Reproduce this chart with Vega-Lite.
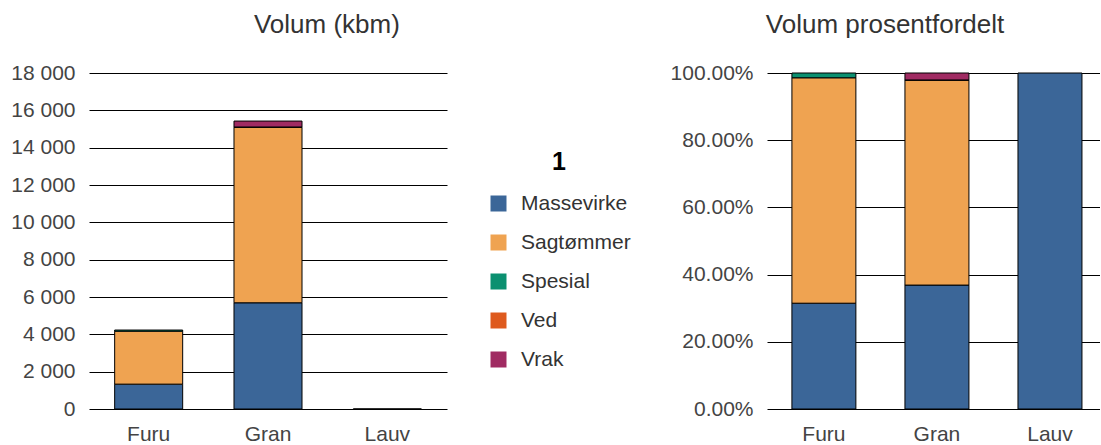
{
  "$schema": "https://vega.github.io/schema/vega-lite/v6.json",
  "padding": {"left": 10, "top": 12, "right": 0, "bottom": 0},
  "data": {"values": [
    {"treslag": "Furu", "sortiment": "Massevirke", "volum": 1332},
    {"treslag": "Furu", "sortiment": "Sagtømmer", "volum": 2838},
    {"treslag": "Furu", "sortiment": "Spesial", "volum": 60},
    {"treslag": "Gran", "sortiment": "Massevirke", "volum": 5690},
    {"treslag": "Gran", "sortiment": "Sagtømmer", "volum": 9406},
    {"treslag": "Gran", "sortiment": "Ved", "volum": 12},
    {"treslag": "Gran", "sortiment": "Vrak", "volum": 318},
    {"treslag": "Lauv", "sortiment": "Massevirke", "volum": 6}
  ]},
  "spacing": 39,
  "hconcat": [
    {
      "title": {"text": "Volum (kbm)", "frame": "bounds", "anchor": "middle", "dx": 6},
      "width": 358,
      "height": 336,
      "mark": {"type": "bar", "stroke": "#000", "strokeWidth": 1},
      "encoding": {
        "x": {"field": "treslag", "type": "nominal", "title": null,
              "scale": {"domain": ["Furu", "Gran", "Lauv"], "paddingInner": 0.43, "paddingOuter": 0.215},
              "axis": {"labelAngle": 0, "ticks": false, "domain": false, "labelPadding": 14}},
        "y": {"field": "volum", "type": "quantitative", "aggregate": "sum", "title": null,
              "scale": {"domain": [0, 18000]},
              "axis": {"values": [0, 2000, 4000, 6000, 8000, 10000, 12000, 14000, 16000, 18000],
                       "labelExpr": "replace(format(datum.value, ','), ',', ' ')",
                       "ticks": false, "domain": false, "labelPadding": 14}},
        "color": {"field": "sortiment", "type": "nominal",
                  "scale": {"domain": ["Massevirke", "Sagtømmer", "Spesial", "Ved", "Vrak"],
                            "range": ["#3B6698", "#EFA351", "#0B9070", "#DE5A1E", "#A02B62"]},
                  "legend": {"title": "1", "orient": "none", "legendX": 399, "legendY": 77}},
        "order": {"field": "sortiment", "sort": "ascending"}
      }
    },
    {
      "title": {"text": "Volum prosentfordelt", "frame": "bounds", "anchor": "middle"},
      "width": 333,
      "height": 336,
      "mark": {"type": "bar", "stroke": "#000", "strokeWidth": 1},
      "encoding": {
        "x": {"field": "treslag", "type": "nominal", "title": null,
              "scale": {"domain": ["Furu", "Gran", "Lauv"], "paddingInner": 0.434, "paddingOuter": 0.19, "align": 0.58},
              "axis": {"labelAngle": 0, "ticks": false, "domain": false, "labelPadding": 14}},
        "y": {"field": "volum", "type": "quantitative", "aggregate": "sum", "title": null,
              "stack": "normalize",
              "scale": {"domain": [0, 1]},
              "axis": {"values": [0, 0.2, 0.4, 0.6, 0.8, 1], "labelExpr": "format(datum.value, '.2%')",
                       "ticks": false, "domain": false, "labelPadding": 14}},
        "color": {"field": "sortiment", "type": "nominal", "legend": null},
        "order": {"field": "sortiment", "sort": "ascending"}
      }
    }
  ],
  "resolve": {"legend": {"color": "independent"}},
  "config": {
    "font": "Liberation Sans",
    "view": {"stroke": null},
    "title": {"fontSize": 26, "fontWeight": "normal", "color": "#333", "offset": 24},
    "axis": {"labelFontSize": 21, "labelColor": "#444", "gridColor": "#000", "gridWidth": 1, "gridOpacity": 1, "labelFont": "Liberation Sans"},
    "legend": {"titleFontSize": 25, "titleFontWeight": "bold", "titleColor": "#000", "titleAnchor": "middle", "titleAlign": "center",
               "titlePadding": 18, "labelFontSize": 21, "labelColor": "#333", "symbolType": "square", "symbolSize": 256,
               "symbolStrokeWidth": 0, "labelOffset": 12, "rowPadding": 17, "symbolOpacity": 1}
  }
}
